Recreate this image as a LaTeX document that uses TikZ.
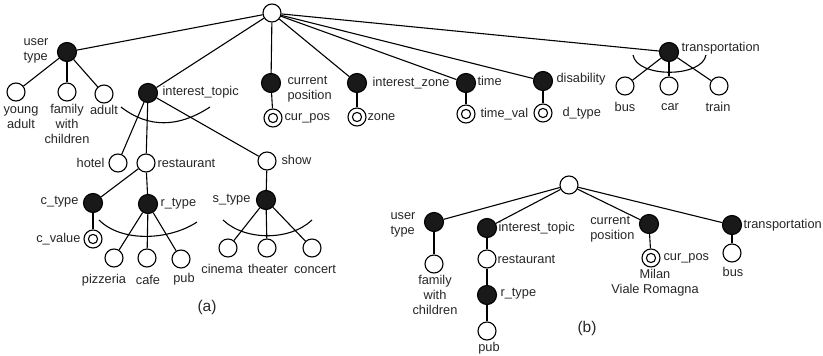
\documentclass[tikz,border=0pt]{standalone}
\usepackage{fontspec}
\setmainfont{Liberation Sans}
\usepackage{tikz}
\usetikzlibrary{positioning}
\tikzset{onode/.style = {draw, fill=white, circle, inner sep = 0, minimum size = 18}}
\tikzset{fnode/.style = {draw, fill=black!90, circle, inner sep = 0, minimum size = 19}}
\tikzset{dnode/.style = {onode, path picture = {\draw (path picture bounding box.center) circle (4.6);}}}
\tikzset{lbl/.style = {inner sep = 0, font = \fontsize{12.8}{15}\selectfont, text = black!85}}
\tikzset{capt/.style = {lbl, font = \fontsize{15.5}{18}\selectfont}}

\begin{document}
\begin{tikzpicture}[x = 1pt, y = -1pt, line width = 1.1pt]
      \useasboundingbox (0, 0) rectangle (823, 356);

      % (a)
      \node [onode] (r) at (272, 13) {};
      \node [fnode] (ut) at (67, 52) {};
      \node [fnode] (it) at (148, 93) {};
      \node [fnode] (cp) at (271, 83) {};
      \node [fnode] (iz) at (357, 83) {};
      \node [fnode] (tm) at (466, 83) {};
      \node [fnode] (ds) at (543, 81) {};
      \node [fnode] (tr) at (669, 52) {};

      \node [onode] (ya) at (16, 92) {};
      \node [onode] (fam) at (67, 92) {};
      \node [onode] (ad) at (104, 94) {};
      \node [dnode] (cpv) at (273, 118) {};
      \node [dnode] (zv) at (357, 117) {};
      \node [dnode] (tv) at (466, 114) {};
      \node [dnode] (dt) at (543, 113) {};
      \node [onode] (bus) at (625, 86) {};
      \node [onode] (car) at (669, 86) {};
      \node [onode] (train) at (719, 86) {};

      \node [onode] (hotel) at (118, 163) {};
      \node [onode] (rest) at (146, 163) {};
      \node [onode] (show) at (267, 161) {};
      \node [fnode] (ct) at (93, 203) {};
      \node [fnode] (rt) at (148, 204) {};
      \node [dnode] (cv) at (93, 239) {};
      \node [onode] (pizz) at (114, 258) {};
      \node [onode] (cafe) at (147, 258) {};
      \node [onode] (pub) at (181, 259) {};
      \node [fnode] (st) at (266, 200) {};
      \node [onode] (cin) at (228, 248) {};
      \node [onode] (th) at (267, 248) {};
      \node [onode] (con) at (312, 248) {};

      \foreach \n in {ut, it, cp, iz, tm, ds, tr} {
        \draw (r) -- (\n);
      }
      \foreach \n in {ya, fam, ad} {
        \draw (ut) -- (\n);
      }
      \foreach \n in {hotel, rest, show} {
        \draw (it) -- (\n);
      }
      \draw (cp) -- (cpv);
      \draw (iz) -- (zv);
      \draw (tm) -- (tv);
      \draw (ds) -- (dt);
      \foreach \n in {bus, car, train} {
        \draw (tr) -- (\n);
      }
      \draw (rest) -- (ct);
      \draw (rest) -- (rt);
      \draw (ct) -- (cv);
      \foreach \n in {pizz, cafe, pub} {
        \draw (rt) -- (\n);
      }
      \draw (show) -- (st);
      \foreach \n in {cin, th, con} {
        \draw (st) -- (\n);
      }

      \draw (121, 107) .. controls (148, 128) and (178, 128) .. (210, 107);
      \draw (633, 55) .. controls (637, 78) and (702, 78) .. (706, 55);
      \draw (99, 220) .. controls (122, 243) and (170, 240) .. (197, 222);
      \draw (223, 220) .. controls (245, 241) and (290, 241) .. (312, 220);

      \node [lbl, anchor = east, align = left] (utl) at (49, 51) {user\\type};
      \node [lbl, align = center] (yal) at (21, 118) {young\\adult};
      \node [lbl, align = center] (faml) at (67, 124) {family\\with\\children};
      \node [lbl] (adl) at (104, 110) {adult};
      \node [lbl, anchor = west] (itl) at (162, 92) {interest\_topic};
      \node [lbl, anchor = west, align = left] (cpl) at (287, 89) {current\\position};
      \node [lbl, anchor = west] (cpvl) at (284, 118) {cur\_pos};
      \node [lbl, anchor = west] (izl) at (372, 83) {interest\_zone};
      \node [lbl, anchor = west] (zvl) at (367, 117) {zone};
      \node [lbl, anchor = west] (tml) at (477, 81) {time};
      \node [lbl, anchor = west] (tvl) at (480, 114) {time\_val};
      \node [lbl, anchor = west] (dsl) at (556, 79) {disability};
      \node [lbl, anchor = west] (dtl) at (562, 113) {d\_type};
      \node [lbl, anchor = west] (trl) at (681, 48) {transportation};
      \node [lbl] (busl) at (625, 107) {bus};
      \node [lbl] (carl) at (670, 107) {car};
      \node [lbl] (trainl) at (718, 107) {train};
      \node [lbl, anchor = east] (hotell) at (105, 163) {hotel};
      \node [lbl, anchor = west] (restl) at (157, 163) {restaurant};
      \node [lbl, anchor = west] (showl) at (281, 160) {show};
      \node [lbl, anchor = east] (ctl) at (79, 202) {c\_type};
      \node [lbl, anchor = west] (rtl) at (160, 204) {r\_type};
      \node [lbl, anchor = east] (cvl) at (81, 239) {c\_value};
      \node [lbl] (pizzl) at (104, 280) {pizzeria};
      \node [lbl] (cafel) at (148, 280) {cafe};
      \node [lbl] (publ) at (184, 279) {pub};
      \node [lbl, anchor = east] (stl) at (251, 200) {s\_type};
      \node [lbl] (cinl) at (222, 269) {cinema};
      \node [lbl] (thl) at (268, 269) {theater};
      \node [lbl] (conl) at (315, 269) {concert};
      \node [capt] (capa) at (207, 307) {(a)};

      % (b)
      \node [onode] (rb) at (569, 185) {};
      \node [fnode] (utb) at (434, 222) {};
      \node [onode] (famb) at (434, 264) {};
      \node [fnode] (itb) at (487, 228) {};
      \node [onode] (restb) at (487, 259) {};
      \node [fnode] (rtb) at (487, 295) {};
      \node [onode] (pubb) at (487, 331) {};
      \node [fnode] (cpb) at (649, 224) {};
      \node [dnode] (cpvb) at (651, 258) {};
      \node [fnode] (trb) at (732, 225) {};
      \node [onode] (busb) at (732, 253) {};

      \foreach \n in {utb, itb, cpb, trb} {
        \draw (rb) -- (\n);
      }
      \draw (utb) -- (famb);
      \draw (itb) -- (restb) -- (rtb) -- (pubb);
      \draw (cpb) -- (cpvb);
      \draw (trb) -- (busb);

      \node [lbl, anchor = east, align = left] (utbl) at (416, 225) {user\\type};
      \node [lbl, align = center] (fambl) at (435, 295) {family\\with\\children};
      \node [lbl, anchor = west] (itbl) at (498, 228) {interest\_topic};
      \node [lbl, anchor = west] (restbl) at (497, 259) {restaurant};
      \node [lbl, anchor = west] (rtbl) at (500, 294) {r\_type};
      \node [lbl] (pubbl) at (489, 348) {pub};
      \node [lbl, anchor = east, align = left] (cpbl) at (635, 229) {current\\position};
      \node [lbl, anchor = west] (cpvbl) at (663, 258) {cur\_pos};
      \node [lbl, align = center] (addr) at (655, 283) {Milan\\Viale Romagna};
      \node [lbl, anchor = west] (trbl) at (743, 225) {transportation};
      \node [lbl] (busbl) at (733, 272) {bus};
      \node [capt] (capb) at (587, 328) {(b)};
    \end{tikzpicture}
\end{document}
